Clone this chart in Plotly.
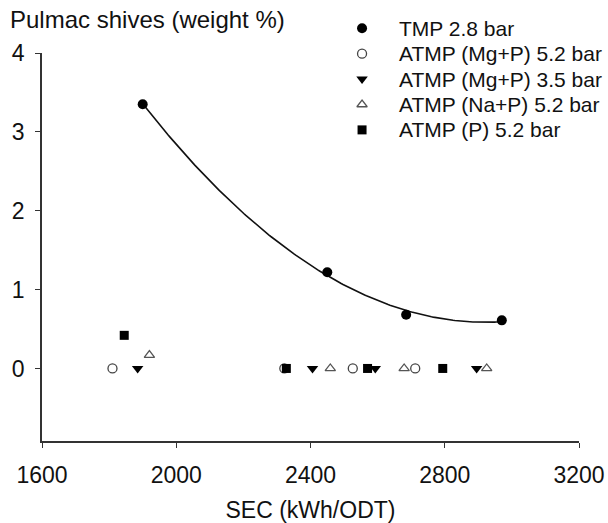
import numpy as np
import plotly.graph_objects as go

# Data
tmp_x = [1900, 2450, 2685, 2970]
tmp_y = [3.35, 1.22, 0.68, 0.61]

mgp52_x = [1810, 2322, 2526, 2712]
mgp52_y = [0.0, 0.0, 0.0, 0.0]

mgp35_x = [1885, 2406, 2593, 2895]
mgp35_y = [0.0, 0.0, 0.0, 0.0]

nap52_x = [1920, 2459, 2679, 2925]
nap52_y = [0.17, 0.0, 0.0, 0.0]

p52_x = [1845, 2328, 2570, 2794]
p52_y = [0.42, 0.0, 0.0, 0.0]

series_names = ["TMP 2.8 bar", "ATMP (Mg+P) 5.2 bar", "ATMP (Mg+P) 3.5 bar",
                "ATMP (Na+P) 5.2 bar", "ATMP (P) 5.2 bar"]

x_ticks = [1600, 2000, 2400, 2800, 3200]
y_ticks = [0, 1, 2, 3, 4]

FONT = "Arial, Liberation Sans, sans-serif"
TXT = "#111111"
AX = "#333333"

markers = [
    dict(symbol="circle", size=10, color="black"),
    dict(symbol="circle-open", size=9, color="#444444", line=dict(width=1.3)),
    dict(symbol="triangle-down", size=10, color="black"),
    dict(symbol="triangle-up-open", size=9, color="#555555", line=dict(width=1.3)),
    dict(symbol="square", size=9, color="black"),
]
series = [(tmp_x, tmp_y), (mgp52_x, mgp52_y), (mgp35_x, mgp35_y), (nap52_x, nap52_y), (p52_x, p52_y)]

# quadratic regression curve through TMP points
coef = np.polyfit(tmp_x, tmp_y, 2)
cx = np.linspace(min(tmp_x), max(tmp_x), 200)
cy = np.polyval(coef, cx)

fig = go.Figure()
fig.add_trace(go.Scatter(x=cx, y=cy, mode="lines", line=dict(color="#111111", width=1.6),
                         showlegend=False, hoverinfo="skip"))
for name, (sx, sy), mk in zip(series_names, series, markers):
    fig.add_trace(go.Scatter(x=sx, y=sy, mode="markers", name=name, marker=mk, showlegend=False))

# legend key on an invisible helper axis pair spanning the whole area inside the margins
LEG_MARK_X = 0.596
LEG_TEXT_X = 0.661
annotations = []
for i, (name, mk) in enumerate(zip(series_names, markers)):
    fig.add_trace(go.Scatter(x=[LEG_MARK_X], y=[-i], xaxis="x2", yaxis="y2", mode="markers",
                             marker=mk, cliponaxis=False, showlegend=False, hoverinfo="skip"))
    annotations.append(dict(text=name, xref="x2", yref="y2", x=LEG_TEXT_X, y=-i,
                            xanchor="left", yanchor="middle", showarrow=False,
                            font=dict(size=21, color=TXT)))

annotations.append(dict(text="Pulmac shives (weight %)", xref="paper", yref="paper",
                        x=-0.063, y=0.9768, xanchor="left", yanchor="middle",
                        showarrow=False, font=dict(size=24, color=TXT)))

fig.update_layout(
    width=608, height=523,
    margin=dict(l=42, r=29, t=10, b=82, autoexpand=False),
    paper_bgcolor="white", plot_bgcolor="rgba(0,0,0,0)",
    font=dict(family=FONT, size=22, color=TXT),
    showlegend=False,
    xaxis=dict(range=[1600, 3200], tickvals=x_ticks, ticktext=[str(v) for v in x_ticks],
               showgrid=False, zeroline=False, showline=True, linecolor=AX, linewidth=1.5,
               ticks="outside", ticklen=5, tickcolor=AX, tickwidth=1.2,
               tickfont=dict(size=23, color=TXT), ticklabelstandoff=8,
               title=dict(text="SEC (kWh/ODT)", font=dict(size=23, color=TXT), standoff=39)),
    yaxis=dict(domain=[0, 0.9002], range=[-0.92, 4], tickvals=y_ticks,
               ticktext=[str(v) for v in y_ticks],
               showgrid=False, zeroline=False, showline=True, linecolor=AX, linewidth=1.5,
               ticks="outside", ticklen=5, tickcolor=AX, tickwidth=1.2,
               tickfont=dict(size=23, color=TXT), ticklabelstandoff=6),
    xaxis2=dict(domain=[0, 1], anchor="y2", range=[0, 1], visible=False, fixedrange=True),
    yaxis2=dict(domain=[0, 1], anchor="x2", range=[-16.25, 0.7205], visible=False, fixedrange=True),
    annotations=annotations,
)

fig.write_html("out.html")
